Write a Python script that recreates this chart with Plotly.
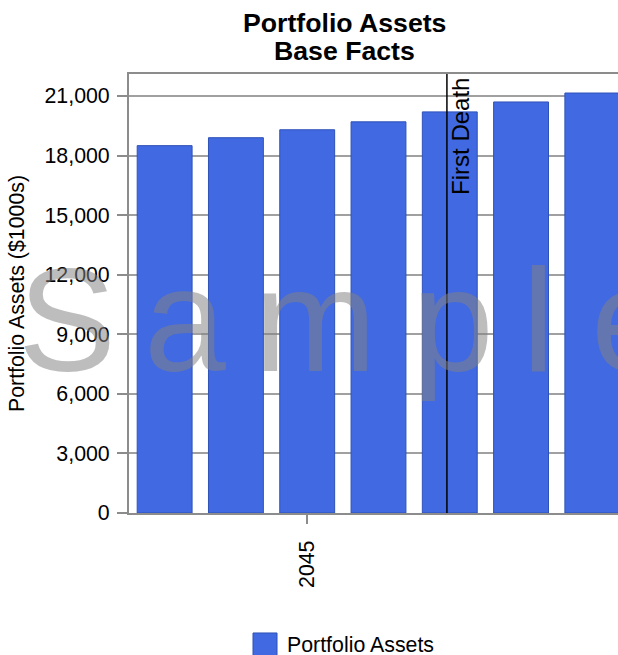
import plotly.graph_objects as go

# Portfolio asset values by year ($1000s)
years = [2043, 2044, 2045, 2046, 2047, 2048, 2049]
assets = [18500, 18900, 19300, 19700, 20200, 20700, 21150]

first_death_year = 2046.96
first_death_label = "First Death"

title_lines = ["Portfolio Assets", "Base Facts"]
y_title = "Portfolio Assets ($1000s)"
series_name = "Portfolio Assets"
watermark = ["S", "a", "m", "p", "l", "e"]
watermark_x = [-0.1268, 0.1145, 0.3804, 0.6626, 0.8374, 1.0286]

BAR = "#4169E1"
BAR_EDGE = "#2f52b8"
GRID = "#a0a0a0"
AXIS = "#8c8c8c"
FONT = "Arial, Liberation Sans, sans-serif"

fig = go.Figure()
fig.add_trace(go.Bar(
    x=years, y=assets, name=series_name,
    marker=dict(color=BAR, line=dict(color=BAR_EDGE, width=1)),
    width=0.77, showlegend=False,
))

# First death marker line
fig.add_shape(type="line", xref="x", yref="paper",
              x0=first_death_year, x1=first_death_year, y0=0, y1=1,
              line=dict(color="black", width=1.5))
fig.add_annotation(x=first_death_year, xref="x", y=1, yref="paper",
                   text=first_death_label, textangle=-90, showarrow=False,
                   xanchor="left", yanchor="top", xshift=-2, yshift=-2,
                   font=dict(family=FONT, size=24, color="black"))

# Title, two lines
for txt, yy in zip(title_lines, [1.1173, 1.0515]):
    fig.add_annotation(x=0.4417, y=yy, xref="paper", yref="paper",
                       text="<b>%s</b>" % txt, showarrow=False,
                       xanchor="center", yanchor="middle",
                       font=dict(family=FONT, size=26.67, color="black"))

# Legend swatch and label
fig.add_shape(type="rect", xref="paper", yref="paper",
              x0=0.2536, x1=0.3027, y0=-0.2733, y1=-0.328,
              fillcolor=BAR, line=dict(color=BAR_EDGE, width=1))
fig.add_annotation(x=0.319, y=-0.3007, xref="paper", yref="paper",
                   text=series_name, showarrow=False,
                   xanchor="left", yanchor="middle",
                   font=dict(family=FONT, size=21.33, color="black"))

# Watermark
for ch, xx in zip(watermark, watermark_x):
    fig.add_annotation(x=xx, y=0.4405, xref="paper", yref="paper",
                       text=ch, showarrow=False,
                       xanchor="center", yanchor="middle",
                       font=dict(family=FONT, size=147,
                                 color="rgba(131,131,131,0.53)"))

fig.update_layout(
    width=618, height=655,
    margin=dict(l=129, r=0, t=74, b=142),
    paper_bgcolor="white", plot_bgcolor="white",
    font=dict(family=FONT, size=21.33, color="black"),
    bargap=0.23,
)
fig.update_xaxes(
    range=[2042.5, 2049.36], tick0=2040, dtick=5,
    ticks="outside", ticklen=9, tickcolor=AXIS, tickwidth=1.5,
    tickangle=-90, ticklabelstandoff=8, showgrid=False, zeroline=False,
    showline=True, linecolor=AXIS, linewidth=2, mirror=True,
    tickfont=dict(family=FONT, size=21.33, color="black"),
)
fig.update_yaxes(
    range=[0, 22108], tick0=0, dtick=3000, tickformat=",d",
    ticks="outside", ticklen=10, tickcolor=AXIS, tickwidth=1.5,
    ticklabelstandoff=3,
    showgrid=True, gridcolor=GRID, gridwidth=1.5, zeroline=False,
    showline=True, linecolor=AXIS, linewidth=2,
    tickfont=dict(family=FONT, size=21.33, color="black"),
    title=dict(text=y_title, standoff=14,
               font=dict(family=FONT, size=21.33, color="black")),
)

fig.write_html("out.html")
